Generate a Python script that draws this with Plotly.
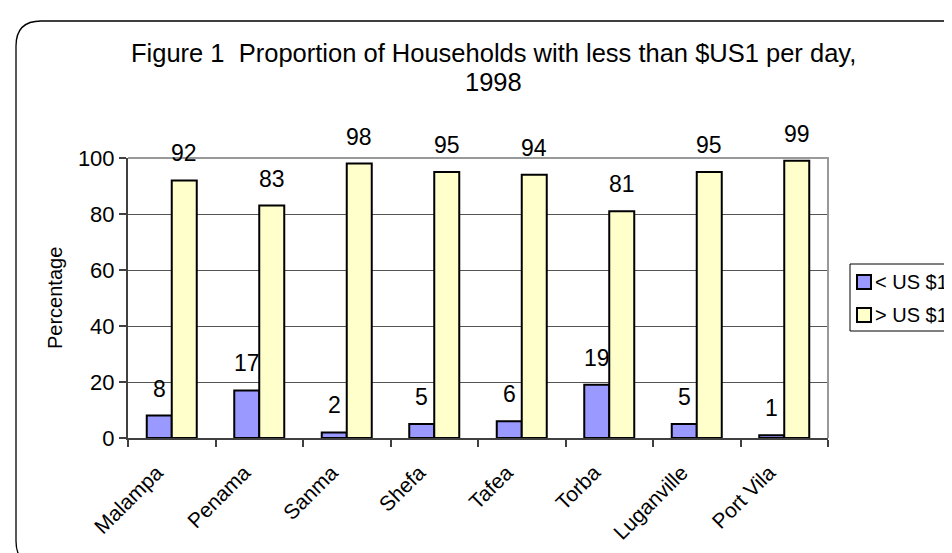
import plotly.graph_objects as go

categories = ["Malampa", "Penama", "Sanma", "Shefa", "Tafea", "Torba", "Luganville", "Port Vila"]
below_1 = [8, 17, 2, 5, 6, 19, 5, 1]
above_1 = [92, 83, 98, 95, 94, 81, 95, 99]
series_names = ["< US $1", "> US $1"]
series_colors = ["#9999FF", "#FFFFCC"]
title_line1 = "Figure 1  Proportion of Households with less than $US1 per day,"
title_line2 = "1998"
y_title = "Percentage"

W, H = 952, 553
L, R, T, B = 120, 820, 150, 430  # plot area in px

def px(x):
    return (x - L) / (R - L)

def py(y):
    return (B - y) / (B - T)

FONT = "Arial, Liberation Sans, sans-serif"

fig = go.Figure()
for name, vals, col in zip(series_names, (below_1, above_1), series_colors):
    fig.add_trace(go.Bar(x=categories, y=vals, name=name, showlegend=False,
                         marker=dict(color=col, line=dict(color="black", width=2))))

annotations = []
for vals, shift in ((below_1, -12.5), (above_1, 12.5)):
    for c, v in zip(categories, vals):
        annotations.append(dict(x=c, y=v, xref="x", yref="y", text=str(v), showarrow=False,
                                xshift=shift, yshift=27, yanchor="middle", xanchor="center",
                                font=dict(size=23, color="black", family=FONT)))

annotations.append(dict(x=px(485), y=py(45), xref="paper", yref="paper", text=title_line1,
                        showarrow=False, xanchor="center", yanchor="middle",
                        font=dict(size=25.5, color="black", family=FONT)))
annotations.append(dict(x=px(485), y=py(74), xref="paper", yref="paper", text=title_line2,
                        showarrow=False, xanchor="center", yanchor="middle",
                        font=dict(size=25.5, color="black", family=FONT)))
annotations.append(dict(x=px(47), y=0.5, xref="paper", yref="paper", text=y_title,
                        showarrow=False, textangle=-90, xanchor="center", yanchor="middle",
                        font=dict(size=20, color="black", family=FONT)))

# rounded outer border
x0, y0, x1, y1, r = 8, 13, 965, 558, 25
path = (f"M {px(x0+r)},{py(y0)} L {px(x1-r)},{py(y0)} Q {px(x1)},{py(y0)} {px(x1)},{py(y0+r)} "
        f"L {px(x1)},{py(y1-r)} Q {px(x1)},{py(y1)} {px(x1-r)},{py(y1)} "
        f"L {px(x0+r)},{py(y1)} Q {px(x0)},{py(y1)} {px(x0)},{py(y1-r)} "
        f"L {px(x0)},{py(y0+r)} Q {px(x0)},{py(y0)} {px(x0+r)},{py(y0)} Z")
shapes = [
    dict(type="path", xref="paper", yref="paper", path=path, line=dict(color="black", width=1.3), layer="below"),
    dict(type="path", xref="paper", yref="paper", path="M 0,1 L 1,1 L 1,0", line=dict(color="#999999", width=2), layer="above"),
    # legend box
    dict(type="rect", xref="paper", yref="paper", x0=px(842), x1=px(951), y0=py(256), y1=py(323),
         line=dict(color="black", width=1), fillcolor="white", layer="above"),
]

# legend entries
legend_rows = [274, 307]
for name, col, yc in zip(series_names, series_colors, legend_rows):
    shapes.append(dict(type="rect", xref="paper", yref="paper", x0=px(849), x1=px(863),
                       y0=py(yc - 7), y1=py(yc + 7), line=dict(color="black", width=2),
                       fillcolor=col, layer="above"))
    annotations.append(dict(x=px(865), y=py(yc), xref="paper", yref="paper", text=name,
                            showarrow=False, xanchor="left", yanchor="middle",
                            font=dict(size=20, color="black", family=FONT)))

fig.update_layout(
    width=W, height=H,
    margin=dict(l=L, r=W - R, t=T, b=H - B, autoexpand=False),
    paper_bgcolor="white", plot_bgcolor="white",
    barmode="group", bargap=1 - 50 / 87.5, bargroupgap=0,
    font=dict(family=FONT, color="black"),
    showlegend=False,
    annotations=annotations,
    shapes=shapes,
    xaxis=dict(type="category", tickangle=-45, tickson="boundaries", ticks="outside", ticklen=7,
               tickcolor="#404040", tickwidth=2,
               ticklabelshift=-15, ticklabelstandoff=12,
               showline=True, linecolor="#404040", linewidth=2, showgrid=False,
               tickfont=dict(size=21, family=FONT, color="black")),
    yaxis=dict(range=[0, 100], tickvals=[0, 20, 40, 60, 80, 100], ticks="outside", ticklen=7,
               tickcolor="#404040", tickwidth=2,
               showline=True, linecolor="#404040", linewidth=2,
               showgrid=True, gridcolor="#555555", gridwidth=1, zeroline=False,
               tickfont=dict(size=22, family=FONT, color="black")),
)

fig.write_html("out.html")
